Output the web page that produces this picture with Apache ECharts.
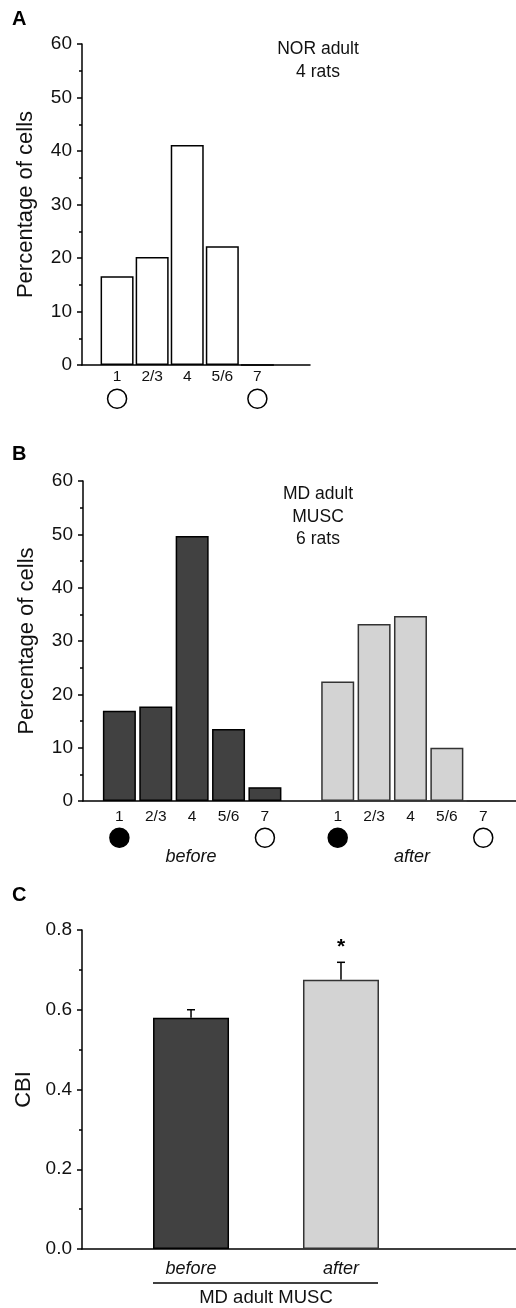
<!DOCTYPE html>
<html>
<head>
<meta charset="utf-8">
<script src="https://cdn.jsdelivr.net/npm/echarts@6/dist/echarts.min.js"></script>
<style>
  html, body { margin: 0; padding: 0; background: #fff; }
  #chart { width: 516px; height: 1308px; }
</style>
</head>
<body>
<div id="chart"></div>
<script>
const FONT = '"Liberation Sans", Arial, sans-serif'

// ocular dominance classes (shared x labels of A and B)
const layers = ['1', '2/3', '4', '5/6', '7']

// A: NOR adult, 4 rats
const norPct = [16.6, 20.2, 41.1, 22.2, 0]
const norEye = ['open', '', '', '', 'open']

// B: MD adult MUSC, 6 rats
const beforePct = [16.9, 17.7, 49.7, 13.5, 2.6]
const afterPct = [22.4, 33.2, 34.7, 10.0, 0]
const mdEye = ['filled', '', '', '', 'open']

// C: CBI
const cbiGroups = ['before', 'after']
const cbiMean = [0.58, 0.675]
const cbiErr = [0.02, 0.044]
const cbiSig = ['', '*']

const pctTicks = [0, 10, 20, 30, 40, 50, 60]
const cbiTicks = ['0.0', '0.2', '0.4', '0.6', '0.8']

const black = { color: '#000', width: 1.5 }
const darkFill = '#414141'
const lightFill = '#d3d3d3'
const afterOffset = 6 // after group starts at x = 7

let chart = echarts.init(document.getElementById('chart'), null, { renderer: 'canvas' })

function pctAxis (gridIndex) {
  return {
    type: 'value',
    gridIndex: gridIndex,
    min: pctTicks[0],
    max: pctTicks[pctTicks.length - 1],
    interval: 10,
    splitLine: { show: false },
    axisLine: { show: true, lineStyle: black },
    axisTick: { show: true, length: 5, lineStyle: black },
    minorTick: { show: true, splitNumber: 2, length: 3, lineStyle: black },
    axisLabel: { color: '#111', fontSize: 19, fontFamily: FONT, margin: 10 },
    name: 'Percentage of cells',
    nameLocation: 'middle',
    nameGap: 45,
    nameTextStyle: { color: '#111', fontSize: 22, fontFamily: FONT }
  }
}

function catAxis (gridIndex, max, labelFn, margin) {
  return {
    type: 'value',
    gridIndex: gridIndex,
    min: 0,
    max: max,
    interval: 1,
    splitLine: { show: false },
    axisTick: { show: false },
    axisLine: { show: true, lineStyle: black },
    axisLabel: {
      color: '#111', fontSize: 15.5, fontFamily: FONT, margin: margin,
      showMaxLabel: false,
      formatter: labelFn
    }
  }
}

// small circles under layer 1 and 7
function eyeSeries (axisIndex, marks, offset, y) {
  let data = []
  marks.forEach((m, i) => {
    if (!m) return
    data.push({
      value: [i + 1 + offset, y],
      itemStyle: { color: m === 'filled' ? '#000' : '#fff', borderColor: '#000', borderWidth: 1.5, opacity: 1 }
    })
  })
  return {
    type: 'scatter',
    xAxisIndex: axisIndex,
    yAxisIndex: axisIndex,
    symbol: 'circle',
    symbolSize: 19,
    clip: false,
    silent: true,
    itemStyle: { opacity: 1 },
    data: data
  }
}

function barSeries (axisIndex, values, offset, fill, border) {
  return {
    type: 'bar',
    xAxisIndex: axisIndex,
    yAxisIndex: axisIndex,
    barWidth: 33,
    barGap: '-100%',
    itemStyle: { color: fill, borderColor: border, borderWidth: 1.5 },
    data: values.map((v, i) => [i + 1 + offset, v])
  }
}

const centered = { align: 'center', verticalAlign: 'middle', textAlign: 'center', textVerticalAlign: 'middle', fill: '#111' }

let option = {
  animation: false,
  textStyle: { fontFamily: FONT },
  grid: [
    { left: 82, top: 44, width: 228, height: 321 },
    { left: 83, top: 481, right: 0, height: 320 },
    { left: 82, top: 930, right: 0, height: 319 }
  ],
  xAxis: [
    catAxis(0, 6.5, (v) => layers[v - 1] || '', 4),
    catAxis(1, 11.9, (v) => {
      if (v >= 1 && v <= 5) return layers[v - 1]
      if (v > afterOffset && v <= afterOffset + 5) return layers[v - afterOffset - 1]
      return ''
    }, 8),
    {
      type: 'value',
      gridIndex: 2,
      min: 0.273,
      max: 3.167,
      splitLine: { show: false },
      axisTick: { show: false },
      axisLabel: { show: false },
      axisLine: { show: true, lineStyle: black }
    }
  ],
  yAxis: [
    pctAxis(0),
    pctAxis(1),
    {
      type: 'value',
      gridIndex: 2,
      min: 0,
      max: 0.8,
      interval: 0.2,
      splitLine: { show: false },
      axisLine: { show: true, lineStyle: black },
      axisTick: { show: true, length: 5, lineStyle: black },
      minorTick: { show: true, splitNumber: 2, length: 3, lineStyle: black },
      axisLabel: {
        color: '#111', fontSize: 19, fontFamily: FONT, margin: 10,
        formatter: (v) => cbiTicks[Math.round(v / 0.2)]
      },
      name: 'CBI',
      nameLocation: 'middle',
      nameGap: 45,
      nameTextStyle: { color: '#111', fontSize: 22, fontFamily: FONT }
    }
  ],
  series: [
    barSeries(0, norPct, 0, '#fff', '#000'),
    eyeSeries(0, norEye, 0, -6.3),
    barSeries(1, beforePct, 0, darkFill, '#000'),
    barSeries(1, afterPct, afterOffset, lightFill, '#333'),
    eyeSeries(1, mdEye, 0, -6.9),
    eyeSeries(1, mdEye, afterOffset, -6.9),
    {
      type: 'bar',
      xAxisIndex: 2,
      yAxisIndex: 2,
      barWidth: 76,
      data: cbiMean.map((v, i) => ({
        value: [i + 1, v],
        itemStyle: {
          color: i === 0 ? darkFill : lightFill,
          borderColor: i === 0 ? '#000' : '#333',
          borderWidth: 1.5
        }
      })),
      label: {
        show: true,
        position: 'bottom',
        distance: 11,
        color: '#111',
        fontSize: 18,
        fontStyle: 'italic',
        fontFamily: FONT,
        formatter: (p) => cbiGroups[p.dataIndex]
      }
    },
    {
      type: 'custom',
      xAxisIndex: 2,
      yAxisIndex: 2,
      clip: false,
      data: cbiMean.map((v, i) => [i + 1, v, v + cbiErr[i]]),
      renderItem: (params, api) => {
        let base = api.coord([api.value(0), api.value(1)])
        let top = api.coord([api.value(0), api.value(2)])
        let children = [
          { type: 'line', shape: { x1: base[0], y1: base[1], x2: top[0], y2: top[1] }, style: { stroke: '#000', lineWidth: 1.5 } },
          { type: 'line', shape: { x1: top[0] - 4, y1: top[1], x2: top[0] + 4, y2: top[1] }, style: { stroke: '#000', lineWidth: 1.5 } }
        ]
        let sig = cbiSig[params.dataIndex]
        if (sig) {
          children.push({
            type: 'text',
            x: top[0],
            y: top[1] - 5,
            style: { text: sig, fill: '#000', font: 'bold 21px ' + FONT, align: 'center', verticalAlign: 'bottom', textAlign: 'center', textVerticalAlign: 'bottom' }
          })
        }
        return { type: 'group', children: children }
      }
    }
  ],
  graphic: [
    { type: 'text', x: 12, y: 9, style: { text: 'A', font: 'bold 20px ' + FONT, fill: '#000' } },
    { type: 'text', x: 12, y: 444, style: { text: 'B', font: 'bold 20px ' + FONT, fill: '#000' } },
    { type: 'text', x: 12, y: 885, style: { text: 'C', font: 'bold 20px ' + FONT, fill: '#000' } },
    { type: 'text', x: 318, y: 61, style: Object.assign({ text: 'NOR adult\n4 rats', font: '17.5px ' + FONT, lineHeight: 23 }, centered) },
    { type: 'text', x: 318, y: 517, style: Object.assign({ text: 'MD adult\nMUSC\n6 rats', font: '17.5px ' + FONT, lineHeight: 22.5 }, centered) },
    { type: 'text', x: 191, y: 857, style: Object.assign({ text: 'before', font: 'italic 18px ' + FONT }, centered) },
    { type: 'text', x: 412, y: 857, style: Object.assign({ text: 'after', font: 'italic 18px ' + FONT }, centered) },
    { type: 'line', shape: { x1: 153, y1: 1283, x2: 378, y2: 1283 }, style: { stroke: '#000', lineWidth: 1.5 } },
    { type: 'text', x: 266, y: 1298, style: Object.assign({ text: 'MD adult MUSC', font: '18.5px ' + FONT }, centered) }
  ]
}

chart.setOption(option)
</script>
</body>
</html>
